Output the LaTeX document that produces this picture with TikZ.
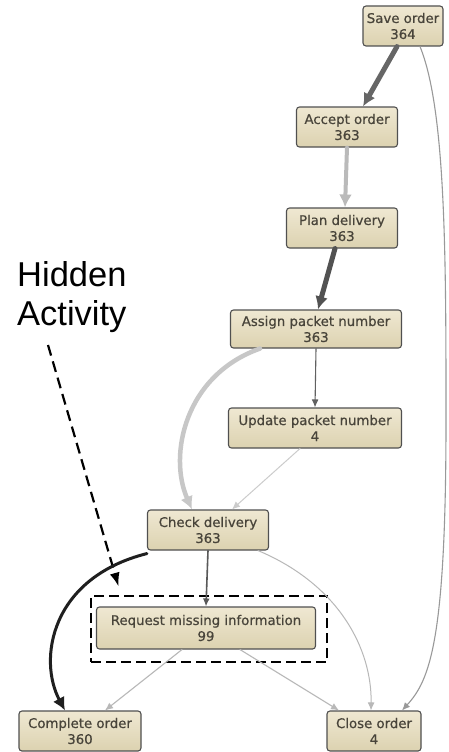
\documentclass[tikz,border=0pt]{standalone}
\usepackage{fontspec}
\setmainfont{DejaVu Sans}
\newfontfamily\actfont[FakeBold=0.6]{DejaVu Sans}
\newfontfamily\calloutfont{Liberation Sans}
\usetikzlibrary{arrows.meta}

\definecolor{boxline}{HTML}{505050}
\definecolor{boxtop}{HTML}{EFE8D2}
\definecolor{boxbot}{HTML}{DCD2B0}
\definecolor{boxtext}{HTML}{48443A}

\begin{document}
\begin{tikzpicture}[x=1pt,y=-1pt,
  act/.style={draw=boxline, line width=1.1pt, rounded corners=3pt,
    top color=boxtop, bottom color=boxbot, text=boxtext, align=center,
    font=\actfont\fontsize{13.3}{16}\selectfont, minimum height=40pt, inner sep=0pt},
  flow/.style={line cap=round},
  bigtip/.style={-{Latex[length=13pt,width=13pt]}},
  smalltip/.style={-{Latex[length=8pt,width=7pt]}}
]
\fill[white] (0,0) rectangle (448,752);
\useasboundingbox (0,0) rectangle (448,752);

% activities
\node[act, minimum width=80pt]  (save)   at (403,26)  {Save order\\364};
\node[act, minimum width=101pt] (accept) at (347,127) {Accept order\\363};
\node[act, minimum width=111pt] (plan)   at (342,228) {Plan delivery\\363};
\node[act, minimum width=171pt, minimum height=38pt] (assign) at (316,329) {Assign packet number\\363};
\node[act, minimum width=173pt] (update) at (315,428) {Update packet number\\4};
\node[act, minimum width=121pt] (check)  at (208,530) {Check delivery\\363};
\node[act, minimum width=219pt, minimum height=42pt] (req) at (206,628) {Request missing information\\99};
\node[act, minimum width=122pt] (complete) at (80,731) {Complete order\\360};
\node[act, minimum width=94pt]  (close)  at (374,731) {Close order\\4};

% dashed frame around the hidden activity
\node[draw=black, line width=2.7pt, dash pattern=on 10pt off 5pt,
  minimum width=236pt, minimum height=66pt, inner sep=0pt] (hidden) at (209,629) {};

% callout
\node[anchor=north west, inner sep=0pt, align=left, text=black,
  font=\calloutfont\fontsize{34.5}{39}\selectfont] (callout) at (17,261) {Hidden\\Activity};
\coordinate (calloutTail) at (48,345);
\draw[line width=2.2pt, dash pattern=on 11pt off 6pt, -{Latex[length=14pt,width=10pt]}]
  (calloutTail) -- ([xshift=29pt,yshift=8pt]hidden.north west);

% connectors
\draw[flow, line width=5pt, draw=black!60, bigtip]
  ([xshift=-6pt]save.south) -- ([xshift=16pt]accept.north);
\draw[flow, line width=1.1pt, draw=black!40, smalltip]
  ([xshift=17pt]save.south) .. controls (446,110) and (446,260) .. (446,420)
  .. controls (446,640) and (430,680) .. ([xshift=28pt]close.north);
\draw[flow, line width=4pt, draw=black!27, bigtip]
  (accept.south) -- ([xshift=3pt]plan.north);
\draw[flow, line width=5pt, draw=black!68, bigtip]
  ([xshift=-7pt]plan.south) -- ([xshift=2pt]assign.north);
\draw[flow, line width=1.1pt, draw=black!62, smalltip]
  (assign.south) -- (update.north);
\draw[flow, line width=4.5pt, draw=black!22, bigtip]
  ([xshift=-56pt]assign.south) .. controls (185,375) and (168,455) .. ([xshift=-16pt]check.north);
\draw[flow, line width=1pt, draw=black!20, smalltip]
  ([xshift=-15pt]update.south) -- ([xshift=24pt]check.north);
\draw[flow, line width=1.6pt, draw=black!65, smalltip]
  (check.south) -- (req.north);
\draw[flow, line width=3pt, draw=black!88, bigtip]
  ([yshift=-3pt]check.south west) .. controls (50,578) and (38,660) .. ([xshift=-15pt]complete.north);
\draw[flow, line width=1pt, draw=black!28, smalltip]
  ([xshift=50pt]check.south) .. controls (340,585) and (372,650) .. ([xshift=-3pt]close.north);
\draw[flow, line width=1.1pt, draw=black!28, smalltip]
  ([xshift=-24pt]req.south) -- ([xshift=25pt]complete.north);
\draw[flow, line width=1.1pt, draw=black!28, smalltip]
  ([xshift=34pt]req.south) -- ([xshift=-35pt]close.north);
\end{tikzpicture}
\end{document}
